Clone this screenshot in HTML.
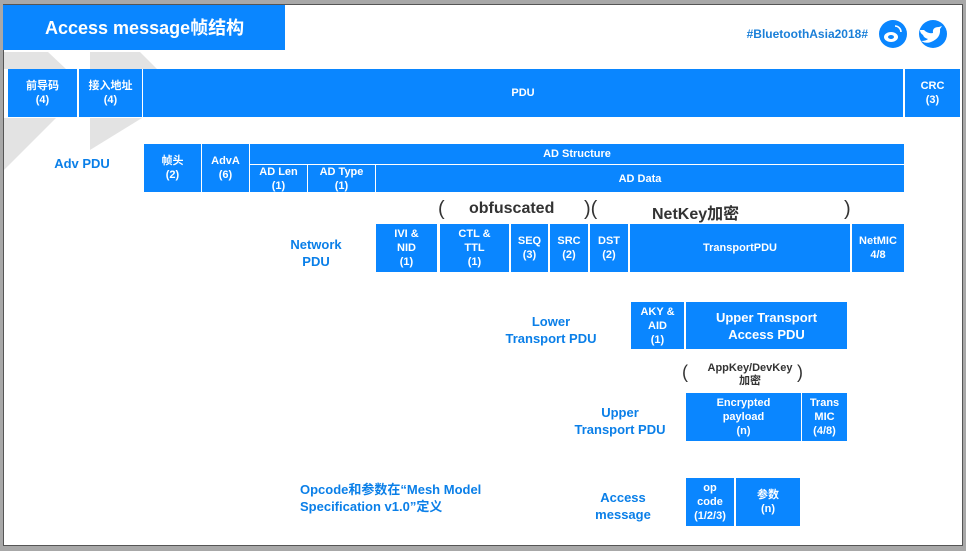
<!DOCTYPE html>
<html><head><meta charset="utf-8"><style>
*{margin:0;padding:0;box-sizing:border-box}
body{width:966px;height:551px;background:#a8a8a8;position:relative;overflow:hidden;font-family:"Liberation Sans","Noto Sans CJK SC",sans-serif;font-weight:bold}
#page{position:absolute;left:3px;top:4px;width:960px;height:542px;background:#fff;border:1px solid #555}
.b{position:absolute;background:#0a86ff;color:#fff;display:flex;align-items:center;justify-content:center;text-align:center;font-size:11px;line-height:14px}
.l{position:absolute;color:#0a7fe8;font-size:13px;line-height:17px;text-align:center;transform:translateX(-50%);white-space:nowrap}
.k{position:absolute;color:#333;font-size:16px;white-space:nowrap}
</style></head><body>
<div id="page"></div>
<svg style="position:absolute;left:0;top:0" width="966" height="551">
<polygon points="4,52 48,52 66,69 4,69" fill="#e3e3e3"/>
<polygon points="4,118 56,118 4,170" fill="#e3e3e3"/>
<polygon points="90,52 140,52 157,69 90,69" fill="#e3e3e3"/>
<polygon points="90,118 142,118 90,150" fill="#e3e3e3"/>
<circle cx="893" cy="34" r="14" fill="#0a86ff"/>
<circle cx="933" cy="34" r="14" fill="#0a86ff"/>
<ellipse cx="891" cy="37" rx="7" ry="5" fill="#fff"/>
<ellipse cx="891" cy="37" rx="3" ry="2" fill="#0a86ff"/>
<path d="M895 26 a6 6 0 0 1 6 6" stroke="#fff" stroke-width="1.6" fill="none"/>
<path d="M924 30 q4 4 9 3 q-1 -6 6 -6 l3 -1 -2 3 q1 9 -9 13 q-5 2 -10 -1 q5 0 7 -2 q-4 -1 -5 -4 q-3 -2 -3 -5z" fill="#fff"/>
</svg>
<div class="b" style="left:3px;top:5px;width:282px;height:45px;justify-content:flex-start;padding-left:42px;font-size:18px">Access message帧结构</div>
<div style="position:absolute;left:700px;top:27px;width:168px;text-align:right;color:#1a7fd8;font-size:12px">#BluetoothAsia2018#</div>

<div class="b" style="left:8px;top:69px;width:69px;height:48px">前导码<br>(4)</div>
<div class="b" style="left:79px;top:69px;width:63px;height:48px">接入地址<br>(4)</div>
<div class="b" style="left:143px;top:69px;width:760px;height:48px">PDU</div>
<div class="b" style="left:905px;top:69px;width:55px;height:48px">CRC<br>(3)</div>

<div class="l" style="left:82px;top:155px">Adv PDU</div>
<div class="b" style="left:144px;top:144px;width:57px;height:48px">帧头<br>(2)</div>
<div class="b" style="left:202px;top:144px;width:47px;height:48px">AdvA<br>(6)</div>
<div class="b" style="left:250px;top:144px;width:654px;height:20px">AD Structure</div>
<div class="b" style="left:250px;top:165px;width:57px;height:27px">AD Len<br>(1)</div>
<div class="b" style="left:308px;top:165px;width:67px;height:27px">AD Type<br>(1)</div>
<div class="b" style="left:376px;top:165px;width:528px;height:27px">AD Data</div>

<div class="k" style="left:438px;top:198px;font-weight:normal;font-size:20px">(</div>
<div class="k" style="left:469px;top:200px">obfuscated</div>
<div class="k" style="left:584px;top:198px;font-weight:normal;font-size:20px">)(</div>
<div class="k" style="left:652px;top:200px">NetKey加密</div>
<div class="k" style="left:844px;top:198px;font-weight:normal;font-size:20px">)</div>

<div class="l" style="left:316px;top:236px">Network<br>PDU</div>
<div class="b" style="left:376px;top:224px;width:61px;height:48px">IVI &amp;<br>NID<br>(1)</div>
<div class="b" style="left:440px;top:224px;width:69px;height:48px">CTL &amp;<br>TTL<br>(1)</div>
<div class="b" style="left:511px;top:224px;width:37px;height:48px">SEQ<br>(3)</div>
<div class="b" style="left:550px;top:224px;width:38px;height:48px">SRC<br>(2)</div>
<div class="b" style="left:590px;top:224px;width:38px;height:48px">DST<br>(2)</div>
<div class="b" style="left:630px;top:224px;width:220px;height:48px">TransportPDU</div>
<div class="b" style="left:852px;top:224px;width:52px;height:48px">NetMIC<br>4/8</div>

<div class="l" style="left:551px;top:313px">Lower<br>Transport PDU</div>
<div class="b" style="left:631px;top:302px;width:53px;height:47px">AKY &amp;<br>AID<br>(1)</div>
<div class="b" style="left:686px;top:302px;width:161px;height:47px;font-size:13px;line-height:17px">Upper Transport<br>Access PDU</div>

<div class="k" style="left:682px;top:362px;font-weight:normal;font-size:18px">(</div>
<div style="position:absolute;left:700px;top:362px;width:100px;text-align:center;color:#333;font-size:11px;line-height:13px">AppKey/DevKey<br>加密</div>
<div class="k" style="left:797px;top:362px;font-weight:normal;font-size:18px">)</div>

<div class="l" style="left:620px;top:404px">Upper<br>Transport PDU</div>
<div class="b" style="left:686px;top:393px;width:115px;height:48px">Encrypted<br>payload<br>(n)</div>
<div class="b" style="left:802px;top:393px;width:45px;height:48px">Trans<br>MIC<br>(4/8)</div>

<div class="l" style="left:623px;top:489px">Access<br>message</div>
<div class="b" style="left:686px;top:478px;width:48px;height:48px">op<br>code<br>(1/2/3)</div>
<div class="b" style="left:736px;top:478px;width:64px;height:48px">参数<br>(n)</div>

<div class="l" style="left:300px;top:481px;transform:none;text-align:left">Opcode和参数在“Mesh Model<br>Specification v1.0”定义</div>
</body></html>
